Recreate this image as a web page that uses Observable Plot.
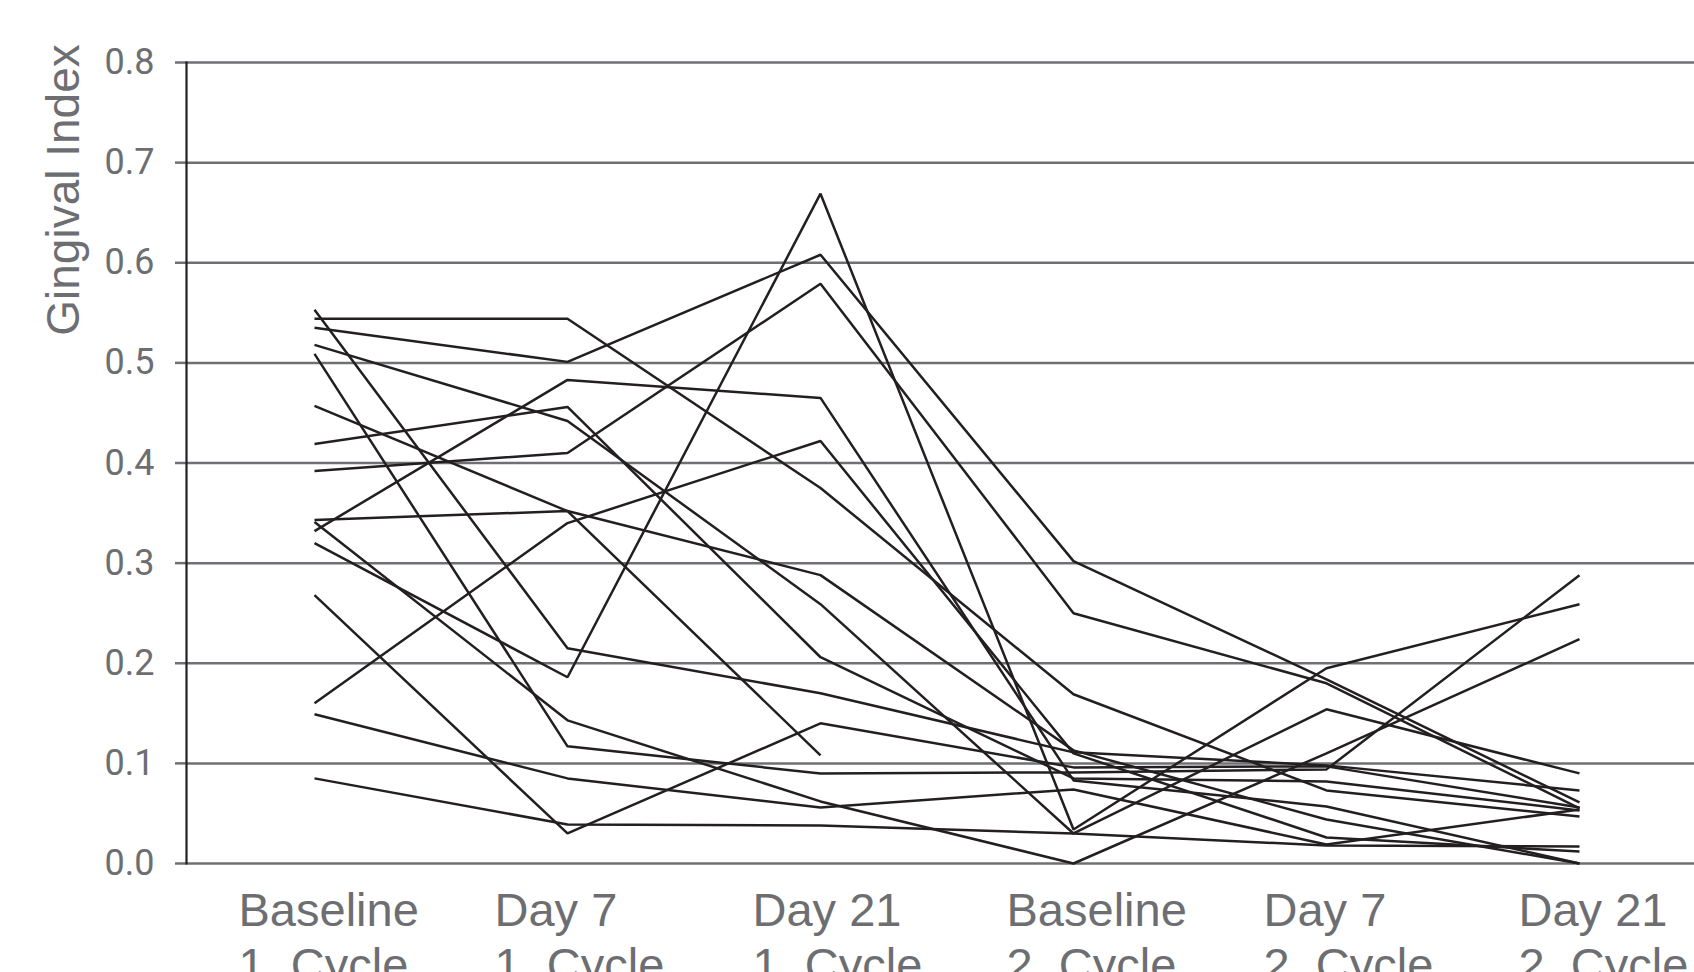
<!DOCTYPE html>
<html>
<head>
<meta charset="utf-8">
<script src="https://cdn.jsdelivr.net/npm/d3@7"></script>
<script src="https://cdn.jsdelivr.net/npm/@observablehq/plot@0.6"></script>
<style>
  html, body { margin: 0; padding: 0; background: #fff; overflow: hidden; width: 1694px; height: 972px; }
  #chart svg { display: block; }
</style>
</head>
<body>
<div id="chart"></div>
<script>
// Time points (x categories)
const timepoints = [
  "Baseline\n1. Cycle",
  "Day 7\n1. Cycle",
  "Day 21\n1. Cycle",
  "Baseline\n2. Cycle",
  "Day 7\n2. Cycle",
  "Day 21\n2. Cycle"
];

// Y axis ticks
const yTicks = [0, 0.1, 0.2, 0.3, 0.4, 0.5, 0.6, 0.7, 0.8];

// Gingival index per subject, one value per time point (null = missing)
const subject01 = [0.553, 0.215, 0.170, 0.111, 0.098, 0.073];
const subject02 = [0.509, 0.117, 0.090, 0.091, 0.094, 0.288];
const subject03 = [0.544, 0.544, 0.375, 0.169, 0.073, 0.047];
const subject04 = [0.535, 0.501, 0.608, 0.302, 0.184, 0.061];
const subject05 = [0.518, 0.442, 0.259, 0.030, 0.154, 0.090];
const subject06 = [0.457, 0.352, 0.288, 0.113, 0.044, 0.000];
const subject07 = [0.419, 0.456, 0.206, 0.085, 0.082, 0.053];
const subject08 = [0.392, 0.410, 0.579, 0.250, 0.180, 0.055];
const subject09 = [0.343, 0.352, 0.108, null, null, null];
const subject10 = [0.341, 0.143, 0.062, 0.000, 0.110, 0.224];
const subject11 = [0.332, 0.483, 0.465, 0.083, 0.057, 0.000];
const subject12 = [0.320, 0.186, 0.669, 0.034, 0.195, 0.259];
const subject13 = [0.268, 0.030, 0.140, 0.096, 0.097, 0.056];
const subject14 = [0.160, 0.340, 0.422, 0.110, 0.026, 0.012];
const subject15 = [0.149, 0.085, 0.056, 0.074, 0.019, 0.054];
const subject16 = [0.085, 0.039, 0.038, 0.030, 0.018, 0.017];

const subjects = [subject01, subject02, subject03, subject04, subject05, subject06, subject07, subject08,
                  subject09, subject10, subject11, subject12, subject13, subject14, subject15, subject16];

const rows = [];
subjects.forEach((vals, i) => {
  vals.forEach((v, j) => {
    if (v != null) rows.push({subject: i + 1, time: timepoints[j], value: v});
  });
});

const grey = "#6f7073";
const textGrey = "#6d6e71";
const ink = "#231f20";

// horizontal nudges of each category label (typesetting of the original)
const labelNudge = [-76, -73, -68, -67, -63, -61];

const xAxes = timepoints.map((t, i) => Plot.axisX([t], {
  tickSize: 0, tickPadding: 23, fontSize: 47, fontFamily: "Liberation Sans",
  fill: textGrey, textAnchor: "start", dx: labelNudge[i], lineHeight: 1.18, label: null
}));

const chart = Plot.plot({
  width: 1694,
  height: 1000,
  marginTop: 62,
  marginBottom: 137,
  marginLeft: 186,
  marginRight: 0,
  style: {background: "#fff", overflow: "visible"},
  x: {type: "point", domain: timepoints, range: [312, 1580], padding: 0},
  y: {domain: [0, 0.8], ticks: yTicks},
  marks: [
    Plot.ruleY(yTicks, {stroke: grey, strokeWidth: 2.5}),
    Plot.axisY(yTicks, {
      tickSize: 11, tickPadding: 21, stroke: grey, strokeWidth: 2.5,
      tickFormat: d3.format(".1f"),
      fontSize: 36, fontFamily: "Roboto", fill: textGrey, label: null
    }),
    ...xAxes,
    Plot.frame({anchor: "left", stroke: ink, strokeWidth: 2.2}),
    Plot.line(rows, {
      x: "time", y: "value", z: "subject",
      stroke: ink, strokeWidth: 2.5, strokeLinejoin: "miter", strokeLinecap: "butt"
    })
  ]
});

// y axis title
d3.select(chart).append("text")
  .attr("transform", "translate(79,190) rotate(-90)")
  .attr("text-anchor", "middle")
  .attr("font-family", "Liberation Sans")
  .attr("font-size", 46)
  .attr("fill", textGrey)
  .text("Gingival Index");

document.getElementById("chart").appendChild(chart);
</script>
</body>
</html>
